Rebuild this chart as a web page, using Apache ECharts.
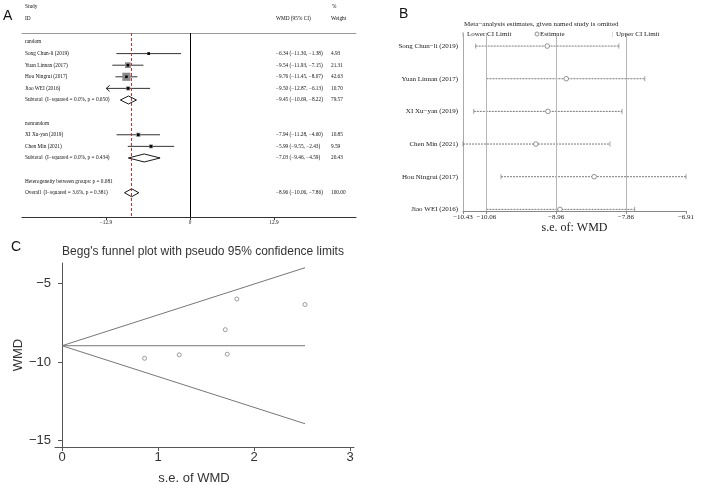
<!DOCTYPE html>
<html><head><meta charset="utf-8">
<script src="https://cdn.jsdelivr.net/npm/echarts@6/dist/echarts.min.js"></script>
<style>html,body{margin:0;padding:0;background:#fff}#c{width:704px;height:485px}</style>
</head><body><div id="c"></div>
<script>
// ---------- Panel A: forest plot ----------
const rowLabelsA = ['random','Song Chun-li (2019)','Yuan Linnan (2017)','Hou Ningrui (2017)','Jiao WEI (2016)',
  'Subtotal  (I\u2212squared = 0.0%, p = 0.650)','nonrandom','XI Xu-yan (2019)','Chen Min (2021)',
  'Subtotal  (I\u2212squared = 0.0%, p = 0.434)','Heterogeneity between groups: p = 0.081','Overall  (I\u2212squared = 3.6%, p = 0.381)'];
const rowPosA = [1,2,3,4,5,6,8,9,10,11,13,14];
const rowKindA = ['group','study','study','study','study','pooled','group','study','study','pooled','note','pooled'];
const wmdA    = [null,-6.34,-9.54,-9.76,-9.50,-9.45,null,-7.94,-5.99,-7.03,null,-8.96];
const lowA    = [null,-11.30,-11.93,-11.45,-12.87,-10.69,null,-11.28,-9.55,-9.46,null,-10.06];
const highA   = [null,-1.38,-7.15,-8.07,-6.13,-8.22,null,-4.60,-2.43,-4.59,null,-7.86];
const weightA = [null,4.93,21.31,42.63,10.70,79.57,null,10.85,9.59,20.43,null,100.00];
const arrowLowA = [0,0,0,0,1,0,0,0,0,0,0,0];
const ticksA = [-12.9, 0, 12.9];
const overallA = -8.96;

// ---------- Panel B: leave-one-out ----------
const omitStudiesB = ['Song Chun\u2212li (2019)','Yuan Linnan (2017)','XI Xu\u2212yan (2019)','Chen Min (2021)','Hou Ningrui (2017)','Jiao WEI (2016)'];
const omitEstB  = [-9.10,-8.80,-9.09,-9.28,-8.36,-8.90];
const omitLowB  = [-10.23,-10.06,-10.26,-10.43,-9.83,-10.06];
const omitHighB = [-7.97,-7.56,-7.92,-8.11,-6.91,-7.72];
const refLinesB = [-10.06,-8.96,-7.86];
const ticksB = [-10.43,-10.06,-8.96,-7.86,-6.91];

// ---------- Panel C: Begg's funnel ----------
const seC  = [2.53,1.22,0.86,1.72,1.70,1.82];
const wmdC = [-6.34,-9.54,-9.76,-9.50,-7.94,-5.99];
const funnelUpperC = [[0,-8.96],[2.53,-4.00]];
const funnelLowerC = [[0,-8.96],[2.53,-13.92]];
const funnelMidC   = [[0,-8.96],[2.53,-8.96]];
const ticksCx = [0,1,2,3];
const ticksCy = [-5,-10,-15];

const minus = s => String(s).replace(/-/g,'\u2212');
const f2 = v => minus(v.toFixed(2));
const SERIF = 'Liberation Serif';
const SANS = 'Liberation Sans';
const fsA = 5.3;

const chart = echarts.init(document.getElementById('c'), null, {renderer:'canvas'});

const marksDataA = [];
wmdA.forEach((v,i)=>{ if(v!==null) marksDataA.push([v,rowPosA[i],lowA[i],highA[i],weightA[i],rowKindA[i]==='pooled'?1:0,arrowLowA[i]]); });

const option = {
  animation:false,
  backgroundColor:'#fff',
  grid:[
    {left:22, top:33, width:334, height:184},
    {left:463, top:33, width:223, height:178},
    {left:55, top:263, width:299, height:184}
  ],
  xAxis:[
    {gridIndex:0, type:'value', min:-25.8, max:25.5, splitLine:{show:false},
     axisLine:{lineStyle:{color:'#333',width:1}},
     axisTick:{customValues:ticksA, length:3, lineStyle:{color:'#333'}},
     axisLabel:{customValues:ticksA, formatter:v=>minus(v===0?'0':v.toFixed(1)), fontSize:fsA, fontFamily:SERIF, color:'#222', margin:3}},
    {gridIndex:0, type:'value', position:'top', min:-25.8, max:25.5, splitLine:{show:false},
     axisLine:{lineStyle:{color:'#999',width:1}}, axisTick:{show:false}, axisLabel:{show:false}},
    {gridIndex:1, type:'value', min:-10.43, max:-6.91, splitLine:{show:false},
     axisLine:{lineStyle:{color:'#888',width:1}},
     axisTick:{customValues:ticksB, length:3, lineStyle:{color:'#888'}},
     axisLabel:{customValues:ticksB, formatter:v=>f2(v), fontSize:7, fontFamily:SERIF, color:'#222', margin:3, hideOverlap:false},
     name:'s.e. of: WMD', nameLocation:'middle', nameGap:11, nameTextStyle:{fontSize:12, fontFamily:SERIF, color:'#222', verticalAlign:'top'}},
    {gridIndex:2, type:'value', min:-0.073, max:3.04, splitLine:{show:false},
     axisLine:{lineStyle:{color:'#555',width:1}},
     axisTick:{customValues:ticksCx, length:4, lineStyle:{color:'#555'}},
     axisLabel:{customValues:ticksCx, fontSize:13, fontFamily:SANS, color:'#333', margin:4}}
  ],
  yAxis:[
    {gridIndex:0, type:'value', inverse:true, min:0.224, max:16.09, show:false},
    {gridIndex:1, type:'value', inverse:true, min:0.6, max:6.05, splitLine:{show:false},
     axisLine:{show:true, lineStyle:{color:'#aaa',width:1}}, axisTick:{show:false},
     axisLabel:{customValues:[1,2,3,4,5,6], formatter:v=>omitStudiesB[Math.round(v)-1], fontSize:7, fontFamily:SERIF, color:'#222', margin:5}},
    {gridIndex:2, type:'value', min:-15.4, max:-3.7, splitLine:{show:false},
     axisLine:{show:true, lineStyle:{color:'#555',width:1}},
     axisTick:{show:true, customValues:ticksCy, length:4, lineStyle:{color:'#555'}},
     axisLabel:{customValues:ticksCy, formatter:v=>minus(v), fontSize:13, fontFamily:SANS, color:'#333', margin:4},
     name:'WMD', nameLocation:'middle', nameGap:30, nameRotate:90, nameTextStyle:{fontSize:13, fontFamily:SANS, color:'#333'}}
  ],
  graphic:[
    {type:'text', left:3, top:9, style:{text:'A', fontSize:14, fontFamily:SANS, fill:'#111'}},
    {type:'text', left:399, top:7, style:{text:'B', fontSize:14, fontFamily:SANS, fill:'#111'}},
    {type:'text', left:11, top:240, style:{text:'C', fontSize:14, fontFamily:SANS, fill:'#111'}},
    {type:'text', x:25, y:7, style:{text:'Study', fontSize:fsA, fontFamily:SERIF, fill:'#111', verticalAlign:'middle'}},
    {type:'text', x:25, y:19, style:{text:'ID', fontSize:fsA, fontFamily:SERIF, fill:'#111', verticalAlign:'middle'}},
    {type:'text', x:276, y:19, style:{text:'WMD (95% CI)', fontSize:fsA, fontFamily:SERIF, fill:'#111', verticalAlign:'middle'}},
    {type:'text', x:332, y:7, style:{text:'%', fontSize:fsA, fontFamily:SERIF, fill:'#111', verticalAlign:'middle'}},
    {type:'text', x:331, y:19, style:{text:'Weight', fontSize:fsA, fontFamily:SERIF, fill:'#111', verticalAlign:'middle'}},
    {type:'text', x:464, y:24, style:{text:'Meta\u2212analysis estimates, given named study is omitted', fontSize:7, fontFamily:SERIF, fill:'#222', verticalAlign:'middle'}},
    {type:'text', x:462, y:34, style:{text:'|', fontSize:7, fontFamily:SERIF, fill:'#999', verticalAlign:'middle'}},
    {type:'text', x:467, y:34, style:{text:'Lower CI Limit', fontSize:7, fontFamily:SERIF, fill:'#222', verticalAlign:'middle'}},
    {type:'circle', shape:{cx:537, cy:34, r:2}, style:{fill:'#fff', stroke:'#777', lineWidth:0.8}},
    {type:'text', x:540, y:34, style:{text:'Estimate', fontSize:7, fontFamily:SERIF, fill:'#222', verticalAlign:'middle'}},
    {type:'text', x:612, y:34, style:{text:'|', fontSize:7, fontFamily:SERIF, fill:'#999', verticalAlign:'middle'}},
    {type:'text', x:616, y:34, style:{text:'Upper CI Limit', fontSize:7, fontFamily:SERIF, fill:'#222', verticalAlign:'middle'}},
    {type:'text', x:203, y:252, style:{text:"Begg's funnel plot with pseudo 95% confidence limits", fontSize:12, fontFamily:SANS, fill:'#333', align:'center', verticalAlign:'middle'}},
    {type:'text', x:194, y:478, style:{text:'s.e. of WMD', fontSize:13, fontFamily:SANS, fill:'#333', align:'center', verticalAlign:'middle'}}
  ],
  series:[
    {type:'custom', xAxisIndex:0, yAxisIndex:0, clip:false, silent:true,
     data: rowPosA.map(r=>[0,r]), encode:{x:0,y:1},
     renderItem:(params, api)=>{
       const i = params.dataIndex;
       const y = api.coord([0, api.value(1)])[1];
       const x0 = params.coordSys.x;
       const st = {fontSize:fsA, fontFamily:SERIF, fill:'#111', verticalAlign:'middle', align:'left'};
       const ch = [{type:'text', x:x0+3, y:y, style:Object.assign({text:rowLabelsA[i]}, st)}];
       if (wmdA[i]!==null){
         ch.push({type:'text', x:x0+254, y:y, style:Object.assign({text:f2(wmdA[i])+' ('+f2(lowA[i])+', '+f2(highA[i])+')'}, st)});
         ch.push({type:'text', x:x0+309, y:y, style:Object.assign({text:weightA[i].toFixed(2)}, st)});
       }
       return {type:'group', children:ch};
     }},
    {type:'custom', xAxisIndex:0, yAxisIndex:0, clip:false, silent:true,
     data: marksDataA, encode:{x:0,y:1},
     renderItem:(params, api)=>{
       const est=api.value(0), row=api.value(1), lo=api.value(2), hi=api.value(3), w=api.value(4), kind=api.value(5), arr=api.value(6);
       const c=api.coord([est,row]), a=api.coord([lo,row]), b=api.coord([hi,row]);
       if (kind===1){
         return {type:'polygon', shape:{points:[[a[0],c[1]],[c[0],c[1]-4],[b[0],c[1]],[c[0],c[1]+4]]}, style:{fill:'#fff', stroke:'#000', lineWidth:0.9}};
       }
       const s = 1.25*Math.sqrt(w);
       const ch = [
         {type:'line', shape:{x1:a[0],y1:c[1],x2:b[0],y2:c[1]}, style:{stroke:'#333', lineWidth:1}},
         {type:'rect', shape:{x:c[0]-s/2,y:c[1]-s/2,width:s,height:s}, style:{fill:'#8a8a8a'}},
         {type:'rect', shape:{x:c[0]-1.3,y:c[1]-1.3,width:2.6,height:2.6}, style:{fill:'#000'}}
       ];
       if (arr) ch.push({type:'polyline', shape:{points:[[a[0]+3.5,c[1]-3],[a[0],c[1]],[a[0]+3.5,c[1]+3]]}, style:{stroke:'#222', fill:'none', lineWidth:1}});
       return {type:'group', children:ch};
     },
     markLine:{silent:true, symbol:'none', label:{show:false}, animation:false,
       data:[
         {xAxis:0, lineStyle:{color:'#000', width:1, type:'solid'}},
         {xAxis:overallA, lineStyle:{color:'#b03a3a', width:1, type:[3,2]}}
       ]}},
    {type:'custom', xAxisIndex:2, yAxisIndex:1, clip:false, silent:true,
     data: omitEstB.map((v,i)=>[v, i+1, omitLowB[i], omitHighB[i]]), encode:{x:0,y:1},
     renderItem:(params, api)=>{
       const row=api.value(1);
       const c=api.coord([api.value(0),row]), a=api.coord([api.value(2),row]), b=api.coord([api.value(3),row]);
       return {type:'group', children:[
         {type:'line', shape:{x1:a[0],y1:c[1],x2:b[0],y2:c[1]}, style:{stroke:'#555', lineWidth:0.8, lineDash:[2,1]}},
         {type:'line', shape:{x1:a[0],y1:c[1]-2.5,x2:a[0],y2:c[1]+2.5}, style:{stroke:'#888', lineWidth:0.8}},
         {type:'line', shape:{x1:b[0],y1:c[1]-2.5,x2:b[0],y2:c[1]+2.5}, style:{stroke:'#888', lineWidth:0.8}},
         {type:'circle', shape:{cx:c[0], cy:c[1], r:2.3}, style:{fill:'#fff', stroke:'#777', lineWidth:0.8}}
       ]};
     },
     markLine:{silent:true, symbol:'none', label:{show:false}, animation:false,
       lineStyle:{color:'#b5b5b5', width:1, type:'solid'},
       data: refLinesB.map(v=>({xAxis:v}))}},
    {type:'line', xAxisIndex:3, yAxisIndex:2, data:funnelUpperC, showSymbol:false, symbol:'none', lineStyle:{color:'#777', width:1}, silent:true},
    {type:'line', xAxisIndex:3, yAxisIndex:2, data:funnelLowerC, showSymbol:false, symbol:'none', lineStyle:{color:'#777', width:1}, silent:true},
    {type:'line', xAxisIndex:3, yAxisIndex:2, data:funnelMidC, showSymbol:false, symbol:'none', lineStyle:{color:'#777', width:1}, silent:true},
    {type:'scatter', xAxisIndex:3, yAxisIndex:2, data:seC.map((s,i)=>[s,wmdC[i]]), symbol:'circle', symbolSize:4,
     itemStyle:{color:'#fff', borderColor:'#666', borderWidth:0.8}, silent:true}
  ]
};
chart.setOption(option);
</script></body></html>
